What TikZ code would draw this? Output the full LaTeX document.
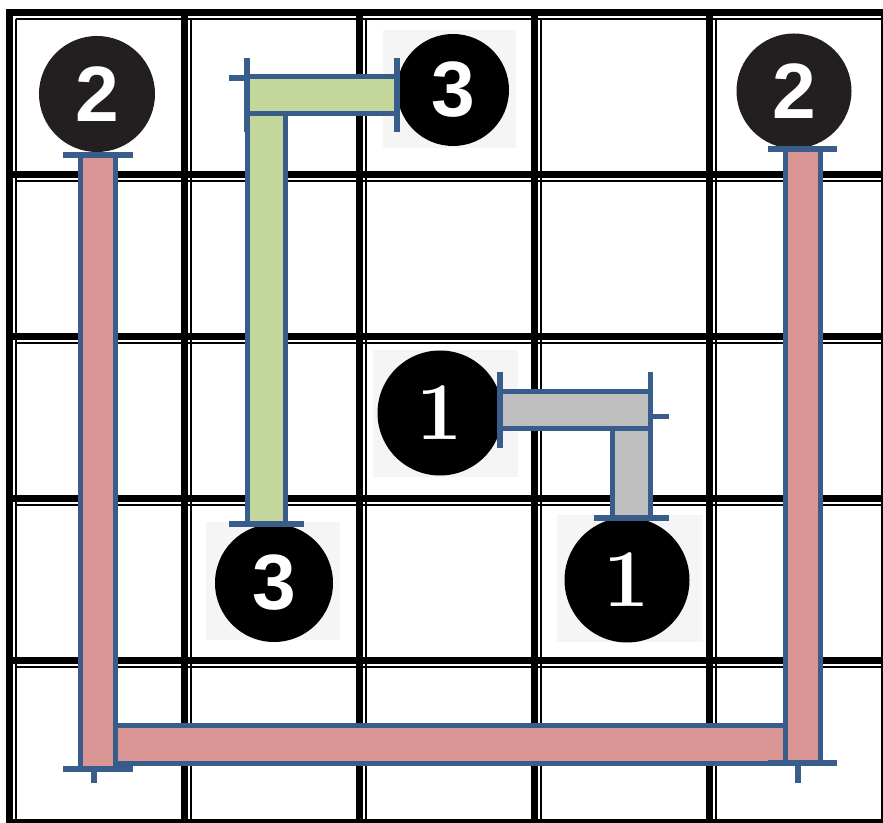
\documentclass[tikz,border=0pt]{standalone}
\usepackage{fontspec}
\setsansfont{Liberation Sans}
\usetikzlibrary{positioning,calc}

\definecolor{outline}{HTML}{385D8A}
\definecolor{redfill}{HTML}{D99694}
\definecolor{greenfill}{HTML}{C3D69B}
\definecolor{grayfill}{HTML}{BFBFBF}
\definecolor{checker}{HTML}{F5F5F5}
\definecolor{discdark}{HTML}{231F20}

\begin{document}
\begin{tikzpicture}[
    x=0.03cm, y=-0.03cm,
    thickline/.style={line width=0.21cm, black},
    thinline/.style={line width=0.06cm, black},
    disc/.style={circle, fill=black, text=white, inner sep=0pt, font=\sffamily\bfseries\fontsize{67}{67}\selectfont},
    serifdisc/.style={disc, font=\rmfamily\bfseries\fontsize{70}{70}\selectfont},
    tile/.style={fill=checker},
    bar/.style={line width=0.15cm, outline, line cap=butt, double distance=0.96cm},
    redbar/.style={bar, double=redfill, double distance=0.9cm},
    greenbar/.style={bar, double=greenfill},
    graybar/.style={bar, double=grayfill},
    endbar/.style={line width=0.17cm, outline}
]
    \useasboundingbox (0,0) rectangle (883,823);

    % board
    \foreach \i in {0,...,5} {
        \draw[thickline] (9.5+175*\i, 9) -- (9.5+175*\i, 823);
        \draw[thickline] (6, 12.5+162*\i) -- (883, 12.5+162*\i);
        \draw[thinline] (16+175*\i, 19) -- (16+175*\i, 823);
        \draw[thinline] (16, 19.5+162*\i) -- (883, 19.5+162*\i);
    }

    % backgrounds behind the clip-art discs
    \fill[tile] (383,30) rectangle (516,148);
    \fill[tile] (206,522) rectangle (340,640);
    \fill[tile] (373,350) rectangle (518,477);
    \fill[tile] (557,515) rectangle (703,642);

    % numbered discs
    \node[disc, fill=discdark, minimum size=3.48cm] (twoL) at (97,94) {2};
    \node[disc, fill=discdark, minimum size=3.45cm] (twoR) at (794,91) {2};
    \node[disc, minimum size=3.36cm] (threeT) at (453,90) {3};
    \node[disc, minimum size=3.54cm] (threeB) at (274,583) {3};
    \node[serifdisc, minimum size=3.75cm] (oneM) at (440,413) {1};
    \node[serifdisc, minimum size=3.75cm] (oneB) at (627,580) {1};

    % 2 -- 2
    \coordinate (rTL) at (98,155);
    \coordinate (rBL) at (98,769);
    \coordinate (rTR) at (802.5,149);
    \coordinate (rBR) at (802.5,763);
    \coordinate (rHL) at (113,744.5);
    \coordinate (rHR) at (788,744.5);
    \draw[redbar, double distance=0.99cm] (rHL) -- (rHR);
    \draw[redbar] (rTL) -- (rBL);
    \draw[redbar] (rTR) -- (rBR);
    \draw[endbar] ($(rTL)+(-35,0)$) -- ($(rTL)+(35,0)$);
    \draw[endbar] ($(rBL)+(-35,0)$) -- ($(rBL)+(35,0)$);
    \draw[endbar] ($(rBL)+(-4,0)$) -- ($(rBL)+(-4,14)$);
    \draw[endbar] ($(rTR)+(-34.5,0)$) -- ($(rTR)+(34.5,0)$);
    \draw[endbar] ($(rBR)+(-34.5,0)$) -- ($(rBR)+(34.5,0)$);
    \draw[endbar] ($(rBR)+(-4.5,0)$) -- ($(rBR)+(-4.5,20)$);

    % 3 -- 3
    \coordinate (gL) at (247,95);
    \coordinate (gR) at (gL -| threeT.west);
    \coordinate (gV) at (266.5,116);
    \coordinate (gB) at (266.5,524);
    \draw[greenbar] (gL) -- (gR);
    \draw[greenbar, double distance=0.99cm] (gV) -- (gB);
    \draw[endbar] ($(gL)+(0,-37)$) -- ($(gL)+(0,37)$);
    \draw[endbar] ($(gL)+(-18,-17)$) -- ($(gL)+(0,-17)$);
    \draw[endbar] ($(gR)+(0,-37)$) -- ($(gR)+(0,37)$);
    \draw[endbar] ($(gB)+(-37.5,0)$) -- ($(gB)+(37.5,0)$);

    % 1 -- 1
    \coordinate (yL) at (500,410);
    \coordinate (yR) at (650.5,410);
    \coordinate (yV) at (631.5,431);
    \coordinate (yB) at (631.5,518);
    \draw[graybar] (yL) -- (yR);
    \draw[graybar, double distance=0.99cm] (yV) -- (yB);
    \draw[endbar] ($(yL)+(0,-37.5)$) -- ($(yL)+(0,38)$);
    \draw[endbar] ($(yR)+(0,-37.5)$) -- ($(yR)+(0,38)$);
    \draw[endbar] ($(yR)+(0,6.5)$) -- ($(yR)+(18,6.5)$);
    \draw[endbar] ($(yB)+(-37.5,0)$) -- ($(yB)+(37,0)$);
\end{tikzpicture}
\end{document}
